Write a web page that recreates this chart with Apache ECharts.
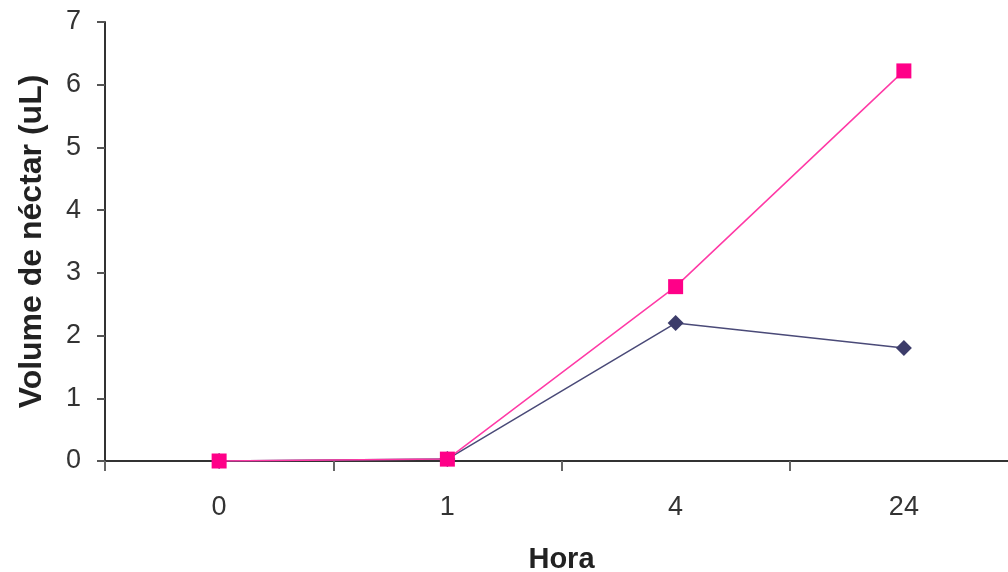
<!DOCTYPE html>
<html><head><meta charset="utf-8">
<script src="https://cdn.jsdelivr.net/npm/echarts@6/dist/echarts.min.js"></script>
<style>html,body{margin:0;padding:0;background:#fff}#c{width:1008px;height:572px}</style>
</head><body><div id="c"></div>
<script>
const categories = ['0', '1', '4', '24'];
const seriesPink = [0, 0.03, 2.78, 6.22];
const seriesNavy = [0, 0.03, 2.2, 1.8];
const yTicks = [0, 1, 2, 3, 4, 5, 6, 7];

const chart = echarts.init(document.getElementById('c'));
chart.setOption({
  animation: false,
  backgroundColor: '#fff',
  grid: { left: 105, top: 22, width: 913, height: 439, outerBoundsMode: 'none', containLabel: false },
  xAxis: {
    type: 'category', data: categories, boundaryGap: true,
    name: 'Hora', nameLocation: 'middle', nameGap: 84,
    nameTextStyle: { fontFamily: 'Liberation Sans', fontWeight: 'bold', fontSize: 29, color: '#222' },
    axisLine: { lineStyle: { color: '#333', width: 2 } },
    axisTick: { show: true, length: 10, lineStyle: { color: '#666', width: 2 } },
    axisLabel: { fontFamily: 'Liberation Sans', fontSize: 27, color: '#333', margin: 33 }
  },
  yAxis: {
    type: 'value', min: 0, max: 7, interval: 1,
    name: 'Volume de néctar (uL)', nameLocation: 'middle', nameGap: 57,
    nameTextStyle: { fontFamily: 'Liberation Sans', fontWeight: 'bold', fontSize: 32, color: '#222' },
    axisLine: { show: true, lineStyle: { color: '#333', width: 2 } },
    axisTick: { show: true, length: 8, lineStyle: { color: '#555', width: 2 } },
    axisLabel: { fontFamily: 'Liberation Sans', fontSize: 27, color: '#333', margin: 24,
      formatter: v => yTicks.includes(v) ? String(v) : '' },
    splitLine: { show: false }
  },
  series: [
    { type: 'line', data: seriesNavy, symbol: 'diamond', symbolSize: 16,
      lineStyle: { color: '#4a4a78', width: 1.5 }, itemStyle: { color: '#3c3c6a' }, z: 2 },
    { type: 'line', data: seriesPink, symbol: 'rect', symbolSize: 15,
      lineStyle: { color: '#ff3aa6', width: 1.5 }, itemStyle: { color: '#ff0088' }, z: 3 }
  ]
});
</script></body></html>
